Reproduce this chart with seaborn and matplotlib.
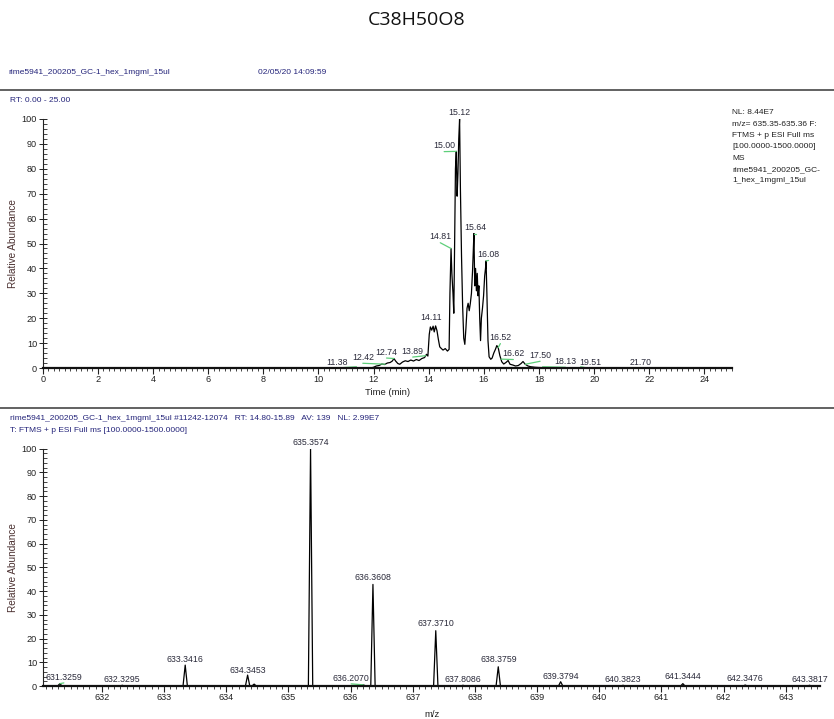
import numpy as np
import pandas as pd
import matplotlib.pyplot as plt
import seaborn as sns
from matplotlib.lines import Line2D
from matplotlib.ticker import MultipleLocator

sns.set_theme(style="white")
plt.rcParams['font.family'] = ['Liberation Sans', 'DejaVu Sans']

# %%
# chromatogram (RT in min, relative abundance)
rt = [0, 10.4, 11.0, 11.5, 11.9, 12.0, 12.1, 12.2, 12.3, 12.4,
      12.5, 12.6, 12.68, 12.74, 12.8, 12.88, 12.95, 13.05, 13.15, 13.25,
      13.35, 13.45, 13.55, 13.65, 13.75, 13.85, 13.92, 13.97, 14.02, 14.06,
      14.11, 14.16, 14.2, 14.25, 14.3, 14.35, 14.4, 14.46, 14.52, 14.6,
      14.68, 14.74, 14.77, 14.81, 14.84, 14.88, 14.91, 14.94, 14.97, 15.0,
      15.03, 15.06, 15.09, 15.12, 15.15, 15.19, 15.23, 15.27, 15.31, 15.35,
      15.39, 15.43, 15.47, 15.51, 15.55, 15.59, 15.62, 15.64, 15.67, 15.7,
      15.73, 15.76, 15.79, 15.82, 15.85, 15.88, 15.91, 15.95, 15.99, 16.03,
      16.06, 16.08, 16.11, 16.15, 16.19, 16.25, 16.3, 16.36, 16.42, 16.47,
      16.52, 16.58, 16.65, 16.72, 16.8, 16.88, 16.95, 17.05, 17.15, 17.25,
      17.35, 17.42, 17.5, 17.6, 17.7, 17.85, 18.0, 18.3, 19.0, 25.0]
abund = [0, 0, 0, 0, 0, 0.3, 0.8, 1.0, 1.6, 1.4,
         2.0, 2.2, 2.8, 3.8, 2.8, 1.8, 1.5, 2.4, 2.9, 2.6,
         3.2, 2.8, 3.4, 3.0, 3.8, 4.2, 5.5, 4.8, 13.5, 16.5,
         15.2, 16.8, 14.5, 16.9, 15.0, 11.5, 8.5, 7.8, 7.2, 7.8,
         6.8, 7.5, 30, 48, 38, 30, 22, 50, 80, 87,
         69, 78, 92, 100, 72, 45, 25, 12, 9.5, 16,
         24, 26, 23, 26, 30, 39, 48, 54, 33, 40,
         31, 38, 29, 33, 20, 11, 20, 24, 29, 37,
         40, 43, 30, 11, 4.5, 3.5, 4.0, 6.0, 7.5, 9.0,
         8.2, 5.0, 2.5, 1.6, 2.2, 3.0, 1.5, 1.2, 0.8, 1.0,
         1.8, 2.6, 1.5, 0.8, 0.5, 0.3, 0.2, 0.1, 0, 0]

peak_rt = [11.38, 12.42, 12.74, 13.89, 14.11, 14.81, 15.00, 15.12,
           15.64, 16.08, 16.52, 16.62, 17.50, 18.13, 19.51, 21.70]
rt_lab_x = [10.66, 11.61, 12.47, 13.42, 14.09, 14.42, 14.56, 15.12,
            15.70, 16.17, 16.60, 17.07, 18.04, 18.96, 19.87, 21.68]
rt_lab_y = [2.4, 4.3, 6.4, 6.8, 20.3, 52.7, 89.3, 102.5,
            56.4, 45.6, 12.2, 5.8, 5.1, 2.7, 2.2, 2.3]

# mass spectrum
mz = [631.3259, 632.3295, 633.3416, 634.3453, 634.45, 635.3574, 636.2070, 636.3608,
      637.3710, 637.8086, 638.3759, 639.3794, 640.3823, 641.3444, 642.3476, 643.3817]
inten = [1.0, 0.3, 8.8, 4.6, 0.8, 100, 0.5, 42.8,
         23.3, 0.3, 8.1, 1.8, 0.3, 1.0, 0.4, 0.3]
mz_labelled = [True] * 4 + [False] + [True] * 11
mz_lab_x = [631.39, 632.33, 633.34, 634.35, 0, 635.357, 636.01, 636.354,
            637.372, 637.80, 638.38, 639.38, 640.386, 641.35, 642.342, 643.38]
mz_lab_y = [3.5, 2.8, 11.2, 6.5, 0, 102.7, 3.1, 45.8,
            26.4, 2.8, 11.2, 4.2, 2.8, 3.9, 3.2, 2.8]

# %%
fig = plt.figure(figsize=(8.34, 7.19), dpi=100)
W, H = 834, 719
navy = '#24247a'
txt = '#2a2a3a'
green = '#5ecf7a'

fig.text(0.5, 1 - 20 / H, 'C38H50O8', ha='center', va='center', fontsize=14,
         family=['Open Sans', 'DejaVu Sans'], color='#111')
fig.text(8 / W, 1 - 72 / H, 'rime5941_200205_GC-1_hex_1mgml_15ul', fontsize=6, color=navy, va='center')
fig.text(258 / W, 1 - 72 / H, '02/05/20 14:09:59', fontsize=6, color=navy, va='center')
fig.text(10 / W, 1 - 101 / H, 'RT: 0.00 - 25.00', fontsize=6, color=navy, va='center')
for yy in [90, 408]:
    fig.add_artist(Line2D([0, 1], [1 - yy / H] * 2, color='#555555', lw=1.3))

info = ['NL: 8.44E7', 'm/z= 635.35-635.36 F:', 'FTMS + p ESI Full ms',
        '[100.0000-1500.0000]', 'MS', 'rime5941_200205_GC-', '1_hex_1mgml_15ul']
for i, s in enumerate(info):
    fig.text(732 / W, 1 - (113 + i * 11.3) / H, s, fontsize=6, color='#222', va='center')

fig.text(10 / W, 1 - 419 / H,
         'rime5941_200205_GC-1_hex_1mgml_15ul #11242-12074   RT: 14.80-15.89   AV: 139   NL: 2.99E7',
         fontsize=6, color=navy, va='center')
fig.text(10 / W, 1 - 430 / H, 'T: FTMS + p ESI Full ms [100.0000-1500.0000]',
         fontsize=6, color=navy, va='center')


def style_axis(ax, xmaj, xmin, width_px):
    sns.despine(ax=ax)
    ax.spines['left'].set_color('#222')
    ax.spines['left'].set_linewidth(0.8)
    ax.spines['bottom'].set_color('#111')
    ax.spines['bottom'].set_linewidth(1.6)
    ax.set_ylim(0, 100)
    ax.yaxis.set_major_locator(MultipleLocator(10))
    ax.yaxis.set_minor_locator(MultipleLocator(2))
    ax.xaxis.set_major_locator(MultipleLocator(xmaj))
    ax.xaxis.set_minor_locator(MultipleLocator(xmin))
    ax.tick_params(axis='y', which='major', direction='inout', length=6, width=0.7,
                   labelsize=6.6, pad=1, colors='#222', left=True)
    ax.tick_params(axis='y', which='minor', direction='in', length=3, width=0.6, left=True)
    ax.tick_params(axis='x', which='major', direction='out', length=4, width=0.8,
                   labelsize=6.6, pad=1, colors='#222', bottom=True)
    ax.tick_params(axis='x', which='minor', direction='out', length=2.5, width=0.6, bottom=True)
    ax.set_ylabel('Relative Abundance', fontsize=7.2, color='#4a3030')
    ax.yaxis.set_label_coords(-(42.7 - 18.5) / width_px, 0.5)
    ax.set_facecolor('white')


# %% chromatogram
ax1 = fig.add_axes([42.7 / W, 1 - 368 / H, (732 - 42.7) / W, (368 - 119) / H])
chrom = pd.DataFrame({'Time (min)': rt, 'Relative Abundance': abund})
sns.lineplot(data=chrom, x='Time (min)', y='Relative Abundance', ax=ax1, color='black',
             lw=0.9, estimator=None, sort=False)
ax1.set_xlim(0, 25)
style_axis(ax1, 2, 0.2, 732 - 42.7)
ax1.set_xlabel('Time (min)', fontsize=6.8, color='#222', labelpad=3)
for p, lx, ly in zip(peak_rt, rt_lab_x, rt_lab_y):
    ax1.text(lx, ly, f'{p:.2f}', fontsize=6.3, ha='center', va='center', color=txt, clip_on=False)
    if abs(lx - p) > 0.05:
        hp = np.interp(p, rt, abund)
        ax1.plot([lx, p], [ly - 2.4, max(hp, 0.5)], color=green, lw=0.9, clip_on=False)

# %% spectrum
ax2 = fig.add_axes([42.7 / W, 1 - 686 / H, (820 - 42.7) / W, (686 - 448.7) / H])
w = 0.035
px = [631.05] + [v for m in mz for v in (m - w, m, m + w)] + [643.55]
py = [0] + [v for h in inten for v in (0, h, 0)] + [0]
spec = pd.DataFrame({'m/z': px, 'Relative Abundance': py})
sns.lineplot(data=spec, x='m/z', y='Relative Abundance', ax=ax2, color='black',
             lw=0.9, estimator=None, sort=False)
ax2.set_xlim(631.05, 643.55)
style_axis(ax2, 1, 0.1, 820 - 42.7)
ax2.set_xlabel('m/z', fontsize=6.8, color='#222')
ax2.xaxis.set_label_coords((432 - 42.7) / (820 - 42.7), -0.1)
for m, h, ok, lx, ly in zip(mz, inten, mz_labelled, mz_lab_x, mz_lab_y):
    if not ok:
        continue
    ax2.text(lx, ly, f'{m:.4f}', fontsize=6.3, ha='center', va='center', color=txt, clip_on=False)
    if abs(lx - m) > 0.05:
        ax2.plot([lx, m], [ly - 2.2, h], color=green, lw=0.9, clip_on=False)

fig.savefig('out.png', dpi=100, facecolor='white')
